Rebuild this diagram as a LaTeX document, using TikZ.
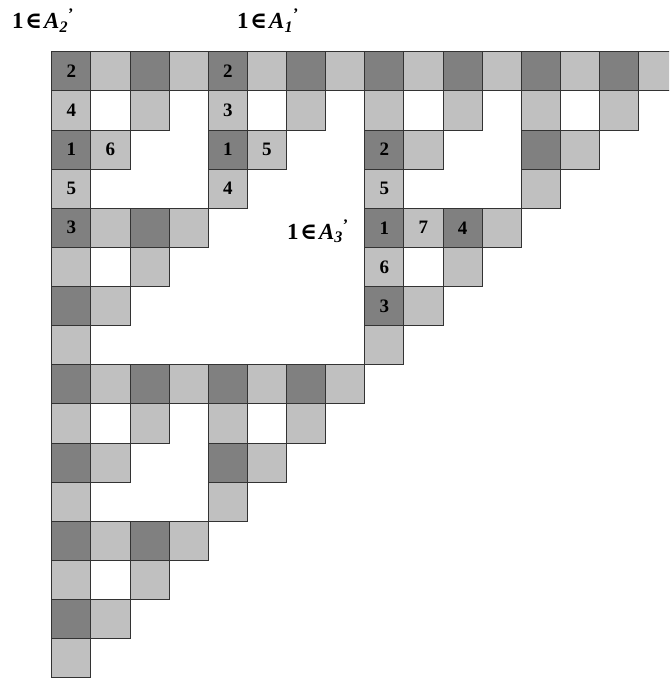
\documentclass[tikz,border=0pt]{standalone}
\usepackage{fontspec}
\setmainfont{Liberation Serif}
\newfontfamily\symfont{DejaVu Serif}
\usetikzlibrary{positioning}
\definecolor{darkcell}{RGB}{128,128,128}
\definecolor{lightcell}{RGB}{192,192,192}
\newcommand{\elt}{\kern1.5pt{\symfont\bfseries\fontsize{23}{23}\selectfont ∈}\kern2pt}

\begin{document}
\begin{tikzpicture}[x=39.13pt,y=-39.13pt,
  cell/.style={draw=black!80,line width=0.8pt,minimum size=39.13pt,inner sep=0pt},
  num/.style={font=\fontsize{19}{19}\selectfont\bfseries,inner sep=0pt},
  lab/.style={font=\fontsize{23}{23}\selectfont\bfseries,inner sep=0pt,anchor=base west}]
\useasboundingbox (-1.321,-1.321) rectangle (15.776,16.057);
\clip (-1.321,-1.321) rectangle (15.776,16.057);
% cell (i,j) is there when i AND j = 0
\foreach \i in {0,...,15}{
  \foreach \j in {0,...,15}{
    \pgfmathtruncatemacro{\hit}{mod(\i,2)*mod(\j,2)+mod(floor(\i/2),2)*mod(floor(\j/2),2)+mod(floor(\i/4),2)*mod(floor(\j/4),2)+mod(floor(\i/8),2)*mod(floor(\j/8),2)}
    \ifnum\hit=0
      \pgfmathtruncatemacro{\dk}{mod(\i,2)+mod(\j,2)}
      \ifnum\dk=0 \def\fc{darkcell}\else\def\fc{lightcell}\fi
      \node[cell,fill=\fc] (c-\i-\j) at ({\j+0.5},{\i+0.5}) {};
    \fi
  }
}
\foreach \r/\c/\n in {0/0/2,1/0/4,2/0/1,2/1/6,3/0/5,4/0/3,
                      0/4/2,1/4/3,2/4/1,2/5/5,3/4/4,
                      2/8/2,3/8/5,4/8/1,4/9/7,4/10/4,5/8/6,6/8/3}{
  \node[num] (n-\r-\c) at (c-\r-\c) {\n};
}
\node[lab] (lA2) at (-1.015,-0.58) {1\elt\textit{A}\textsubscript{\textit{2}}\textsuperscript{'}};
\node[lab] (lA1) at (4.735,-0.58) {1\elt\textit{A}\textsubscript{\textit{1}}\textsuperscript{'}};
\node[lab] (lA3) at (6.01,4.79) {1\elt\textit{A}\textsubscript{\textit{3}}\textsuperscript{'}};
\end{tikzpicture}
\end{document}
